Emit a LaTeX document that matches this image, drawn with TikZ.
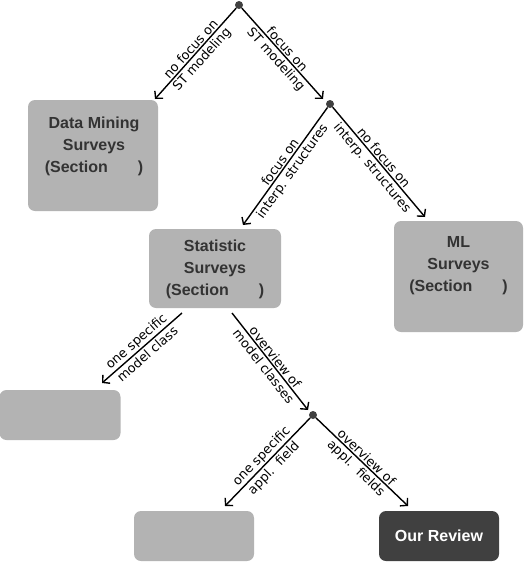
\documentclass[tikz,border=0pt]{standalone}
\usepackage{fontspec}
\setmainfont{Liberation Sans}
\newfontfamily\labfont{DejaVu Sans}
\usetikzlibrary{arrows.meta}
\definecolor{boxgray}{HTML}{B3B3B3}
\definecolor{darkgray}{HTML}{404040}
\definecolor{txtgray}{HTML}{333333}
\begin{document}
\begin{tikzpicture}[x=1pt,y=-1pt,
  box/.style={fill=boxgray,rounded corners=7pt,inner sep=0pt},
  boxtext/.style={text=txtgray,font=\fontsize{16}{22}\selectfont\bfseries,align=center,inner sep=0pt},
  dot/.style={circle,fill=darkgray,minimum size=8pt,inner sep=0pt},
  arr/.style={-{Straight Barb[length=5pt,width=11pt]},line width=1.4pt},
  labtop/.style={midway,sloped,anchor=south,inner xsep=0pt,inner ysep=1.2pt,font=\labfont\fontsize{12.8}{13}\selectfont},
  labbot/.style={midway,sloped,anchor=north,inner xsep=0pt,inner ysep=2.2pt,font=\labfont\fontsize{12.8}{13}\selectfont}]
\useasboundingbox (0,0) rectangle (524,562);

% boxes
\node[box,minimum width=130pt,minimum height=111pt] (dm) at (93,155.5) {};
\node[boxtext] (dmt) at (94,146) {Data Mining\\Surveys\\(Section\hspace{30pt})};
\node[box,minimum width=132pt,minimum height=79pt] (st) at (215,268.5) {};
\node[boxtext] (stt) at (215,269) {Statistic\\Surveys\\(Section\hspace{30pt})};
\node[box,minimum width=129pt,minimum height=111pt] (ml) at (458.5,276.5) {};
\node[boxtext] (mlt) at (458.5,266) {ML\\Surveys\\(Section\hspace{30pt})};
\node[box,minimum width=121pt,minimum height=50pt] (lb) at (60,415) {};
\node[box,minimum width=120pt,minimum height=50pt] (bl) at (194,536) {};
\node[box,fill=darkgray,minimum width=120pt,minimum height=50pt,text=white,font=\fontsize{16}{18}\selectfont\bfseries] (or) at (439,536) {Our Review};

% dots
\node[dot] (d1) at (239,5) {};
\node[dot] (d2) at (330,104) {};
\node[dot] (d3) at (313,415) {};

% arrow ends
\coordinate (tDM) at (155,99);
\coordinate (t2) at (323,99);
\coordinate (tST) at (243,225);
\coordinate (tML) at (425,217);
\coordinate (sA) at (182,313);
\coordinate (tLB) at (102,383);
\coordinate (sB) at (232,313);
\coordinate (t3) at (308,410);
\coordinate (tBL) at (225,506);
\coordinate (tOR) at (408,506);

% connectors
\draw[arr] (d1) -- (tDM) node[labtop] (l1a) {no focus on} node[labbot] (l1b) {ST modeling};
\draw[arr] (d1) -- (t2) node[labtop] (l2a) {focus on} node[labbot] (l2b) {ST modeling};
\draw[arr] (d2) -- (tST) node[labtop] (l3a) {focus on} node[labbot] (l3b) {interp. structures};
\draw[arr] (d2) -- (tML) node[labtop] (l4a) {no focus on} node[labbot] (l4b) {interp. structures};
\draw[arr] (sA) -- (tLB) node[labtop] (l5a) {one specific\vphantom{x}} node[labbot] (l5b) {model class};
\draw[arr] (sB) -- (t3) node[labtop] (l6a) {overview of} node[labbot] (l6b) {model classes};
\draw[arr] (d3) -- (tBL) node[labtop] (l7a) {one specific} node[labbot] (l7b) {appl.\ \ field};
\draw[arr] (d3) -- (tOR) node[labtop] (l8a) {overview of} node[labbot] (l8b) {appl.\ \ fields};
\end{tikzpicture}
\end{document}
